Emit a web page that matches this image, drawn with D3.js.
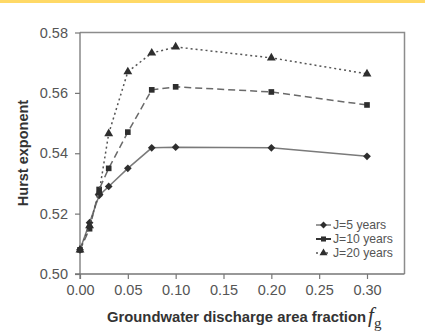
<!DOCTYPE html>
<html>
<head>
<meta charset="utf-8">
<script src="https://cdn.jsdelivr.net/npm/d3@7"></script>
<style>
  html, body { margin: 0; padding: 0; background: #fff; }
  svg { display: block; }
</style>
</head>
<body>
<svg id="chart" width="425" height="333"></svg>
<script>
const fractions = [0, 0.01, 0.02, 0.03, 0.05, 0.075, 0.10, 0.20, 0.30];
const hurstJ5 = [0.508, 0.517, 0.526, 0.529, 0.535, 0.5418, 0.542, 0.5418, 0.539];
const hurstJ10 = [0.508, 0.515, 0.528, 0.535, 0.547, 0.561, 0.562, 0.5603, 0.556];
const hurstJ20 = [0.508, 0.516, 0.527, 0.5465, 0.567, 0.5732, 0.5752, 0.5716, 0.5663];
const seriesNames = ["J=5 years", "J=10 years", "J=20 years"];
const xTicks = [0, 0.05, 0.10, 0.15, 0.20, 0.25, 0.30];
const yTicks = [0.50, 0.52, 0.54, 0.56, 0.58];

const svg = d3.select("#chart");
const plotLeft = 80, plotRight = 404.5, plotTop = 32.5, plotBottom = 274;

svg.append("rect").attr("x", 0).attr("y", 0).attr("width", 425).attr("height", 3).attr("fill", "#ffd966");

const x = d3.scaleLinear().domain([0, 0.3392]).range([plotLeft, plotRight]);
const y = d3.scaleLinear().domain([0.50, 0.58]).range([plotBottom, plotTop]);

// frame
svg.append("path").attr("d", `M${plotLeft},${plotTop}H${plotRight}V${plotBottom}`).attr("fill", "none").attr("stroke", "#8c8c8c").attr("stroke-width", 1.5);

const xAxis = svg.append("g").attr("transform", `translate(0,${plotBottom})`)
  .call(d3.axisBottom(x).tickValues(xTicks).tickSize(5).tickPadding(6).tickFormat(d3.format(".2f")));
const yAxis = svg.append("g").attr("transform", `translate(${plotLeft},0)`)
  .call(d3.axisLeft(y).tickValues(yTicks).tickSize(5).tickPadding(7).tickFormat(d3.format(".2f")));
[xAxis, yAxis].forEach(a => {
  a.select(".domain").attr("stroke", "#777").attr("stroke-width", 1.3);
  a.selectAll(".tick line").attr("stroke", "#777").attr("stroke-width", 1.2);
  a.selectAll(".tick text").attr("fill", "#555").attr("font-family", "Liberation Sans, Arial, sans-serif").attr("font-size", 14.5);
});
xAxis.select(".domain").attr("d", `M${plotLeft},5V0H${plotRight}`);
yAxis.select(".domain").attr("d", `M-5,${plotBottom}H0V${plotTop}`);

const series = [
  { name: seriesNames[0], values: hurstJ5, dash: null, color: "#7a7a7a", marker: d3.symbolDiamond2, size: 38 },
  { name: seriesNames[1], values: hurstJ10, dash: "7,4", color: "#6a6a6a", marker: d3.symbolSquare, size: 32 },
  { name: seriesNames[2], values: hurstJ20, dash: "2,3", color: "#555", marker: d3.symbolTriangle, size: 34 }
];

const line = d3.line().x((d, i) => x(fractions[i])).y(d => y(d));

series.forEach(s => {
  svg.append("path").datum(s.values).attr("d", line).attr("fill", "none")
    .attr("stroke", s.color).attr("stroke-width", 1.5).attr("stroke-dasharray", s.dash);
  svg.append("g").selectAll("path").data(s.values).join("path")
    .attr("transform", (d, i) => `translate(${x(fractions[i])},${y(d)})`)
    .attr("d", d3.symbol().type(s.marker).size(s.size)).attr("fill", "#2e2e2e");
});

// legend
const legend = svg.append("g").attr("transform", "translate(316,225)");
series.forEach((s, i) => {
  const g = legend.append("g").attr("transform", `translate(0,${i * 14})`);
  g.append("line").attr("x1", 0).attr("x2", 15).attr("y1", 0).attr("y2", 0)
    .attr("stroke", i === 1 ? "#333" : s.color).attr("stroke-width", i === 1 ? 2 : 1.5).attr("stroke-dasharray", i === 2 ? "2,3" : null);
  g.append("path").attr("transform", "translate(7.5,0)").attr("d", d3.symbol().type(s.marker).size(s.size * 0.8)).attr("fill", "#2e2e2e");
  g.append("text").attr("x", 17).attr("y", 4.3).text(s.name)
    .attr("fill", "#555").attr("font-family", "Liberation Sans, Arial, sans-serif").attr("font-size", 12.2);
});

// axis titles
svg.append("text").attr("transform", "translate(28,153) rotate(-90)").attr("text-anchor", "middle")
  .attr("font-family", "Liberation Sans, Arial, sans-serif").attr("font-weight", "bold").attr("font-size", 14.5)
  .attr("fill", "#333").text("Hurst exponent");

const xt = svg.append("text").attr("x", 107).attr("y", 322)
  .attr("font-family", "Liberation Sans, Arial, sans-serif").attr("font-weight", "bold").attr("font-size", 14.8)
  .attr("fill", "#333");
xt.append("tspan").text("Groundwater discharge area fraction");
xt.append("tspan").attr("font-family", "Liberation Serif, Times New Roman, serif").attr("font-weight", "normal")
  .attr("font-style", "italic").attr("font-size", 21).attr("dx", 2).text("f");
xt.append("tspan").attr("font-family", "Liberation Serif, Times New Roman, serif").attr("font-weight", "normal")
  .attr("font-size", 15).attr("dy", 6).text("g");
</script>
</body>
</html>
